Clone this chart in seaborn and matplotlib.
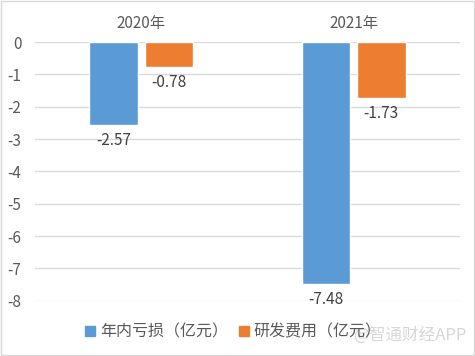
import pandas as pd
import matplotlib.pyplot as plt
import seaborn as sns

years = ['2020年', '2021年']
loss = [-2.57, -7.48]
rnd = [-0.78, -1.73]
series_names = ['年内亏损（亿元）', '研发费用（亿元）']
yticks = [0, -1, -2, -3, -4, -5, -6, -7, -8]

df = pd.DataFrame({
    'year': years * 2,
    'value': loss + rnd,
    'series': [series_names[0]] * 2 + [series_names[1]] * 2,
})

sns.set_style('white')
plt.rcParams['font.family'] = ['Noto Sans CJK SC', 'DejaVu Sans']
txt = '#595959'

fig = plt.figure(figsize=(4.75, 3.56), dpi=100)
ax = fig.add_axes([0.074, 0.155, 0.894, 0.727])

sns.barplot(data=df, x='year', y='value', hue='series', order=years,
            hue_order=series_names, palette=['#5B9BD5', '#ED7D31'],
            width=0.52, gap=0.12, saturation=1, ax=ax, legend=False)

for cont in ax.containers:
    ax.bar_label(cont, fmt='%.2f', padding=5, fontsize=11, color='#404040')

ax.set_ylim(-8, 0)
ax.set_yticks(yticks)
ax.set_yticklabels([str(t) for t in yticks])
ax.yaxis.grid(True, color='#D9D9D9', linewidth=1)
ax.set_axisbelow(True)
ax.xaxis.tick_top()
ax.tick_params(axis='both', length=0, labelsize=11, colors=txt)
ax.tick_params(axis='x', pad=7)
ax.tick_params(axis='y', pad=10)
ax.set_xlabel('')
ax.set_ylabel('')
for s in ax.spines.values():
    s.set_visible(False)

handles = [plt.Line2D([], [], marker='s', linestyle='', markersize=7, color=c)
           for c in ['#5B9BD5', '#ED7D31']]
fig.legend(handles, series_names, loc='center', bbox_to_anchor=(0.49, 0.067),
           ncol=2, frameon=False, fontsize=11.5, labelcolor=txt,
           handletextpad=0.2, columnspacing=0.6, handlelength=0.8)

fig.text(0.982, 0.06, '@智通财经APP', ha='right', va='center', fontsize=12,
         color='#CCCCCC', alpha=0.8)

fig.patches.append(plt.Rectangle((0.002, 0.003), 0.995, 0.994, transform=fig.transFigure,
                                 fill=False, edgecolor='#D9D9D9', linewidth=1))

fig.savefig('out.png', dpi=100)
